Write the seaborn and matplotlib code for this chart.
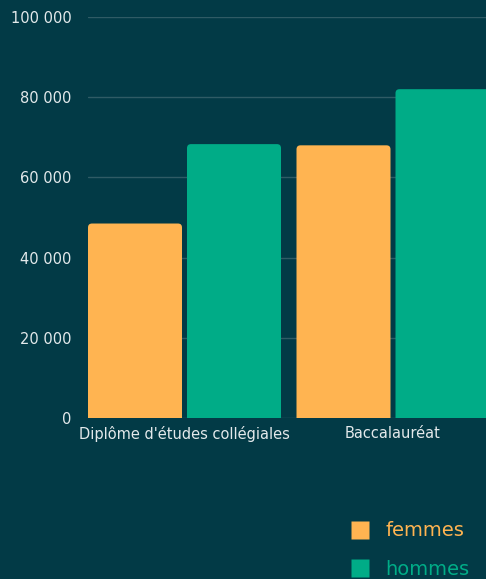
import matplotlib
matplotlib.use("Agg")
import matplotlib.pyplot as plt
import seaborn as sns
import pandas as pd
from matplotlib.patches import FancyBboxPatch
from matplotlib.lines import Line2D
from matplotlib.ticker import FuncFormatter

categories = ["Diplôme d'études collégiales", "Baccalauréat"]
series = ["femmes", "hommes"]
femmes = [48500, 68000]
hommes = [68300, 82000]
yticks = [0, 20000, 40000, 60000, 80000, 100000]

BG = "#023a46"
ORANGE = "#ffb451"
GREEN = "#00ac87"
TEXT = "#e3e9eb"
GRID = "#2f5b65"

rows = []
for c, f, h in zip(categories, femmes, hommes):
    rows.append({"niveau": c, "sexe": "femmes", "valeur": f})
    rows.append({"niveau": c, "sexe": "hommes", "valeur": h})
df = pd.DataFrame(rows)

sns.set_theme(style="dark")
plt.rcParams["font.family"] = ["DejaVu Sans"]

fig = plt.figure(figsize=(4.86, 5.79), dpi=100, facecolor=BG)
ax = fig.add_axes([88 / 486, 1 - 418 / 579, 1 - 88 / 486, (418 - 17) / 579])
ax.set_facecolor(BG)

sns.barplot(data=df, x="niveau", y="valeur", hue="sexe", order=categories,
            hue_order=series, palette=[ORANGE, GREEN], width=0.926, gap=0.026,
            saturation=1, ax=ax, legend=False, errorbar=None, zorder=3)

ppu = 208.5  # pixels per category unit
ax.set_xlim(-(184.5 - 88) / ppu, 1 + (486 - 393) / ppu)
ax.set_ylim(0, 100000)

# rounded top corners, exact bar geometry
bw = 94 / ppu
off = (94 + 5) / 2 / ppu
px_x = 1.0 / ppu
px_y = 1000.0 / 4.01
r = 4 * px_x
aspect = px_y / px_x
for p in list(ax.patches):
    cx = p.get_x() + p.get_width() / 2
    base = round(cx)
    sign = -1 if cx < base else 1
    x0 = base + sign * off - bw / 2
    h = p.get_height()
    fc = p.get_facecolor()
    p.set_visible(False)
    fb = FancyBboxPatch((x0, -3000), bw, h + 3000,
                        boxstyle=f"round,pad=0,rounding_size={r}",
                        mutation_aspect=aspect, facecolor=fc, edgecolor="none",
                        zorder=3)
    ax.add_patch(fb)

ax.set_yticks(yticks)
ax.yaxis.set_major_formatter(FuncFormatter(lambda v, _: f"{int(v):,}".replace(",", " ")))
ax.grid(axis="y", color=GRID, linewidth=1, zorder=0)
ax.grid(axis="x", visible=False)
for s in ax.spines.values():
    s.set_visible(False)
ax.tick_params(axis="y", colors=TEXT, labelsize=10.5, length=0, pad=12)
ax.tick_params(axis="x", colors=TEXT, labelsize=10.5, length=0, pad=6)
ax.set_xlabel("")
ax.set_ylabel("")

handles = [Line2D([], [], marker="s", linestyle="none", markersize=12.5,
                  markerfacecolor=ORANGE, markeredgecolor="none"),
           Line2D([], [], marker="s", linestyle="none", markersize=12.5,
                  markerfacecolor=GREEN, markeredgecolor="none")]
leg = fig.legend(handles, series, loc="upper left",
                 bbox_to_anchor=(333 / 486, 1 - 504 / 579), frameon=False,
                 fontsize=14, labelcolor=[ORANGE, GREEN], handletextpad=0.8,
                 labelspacing=1.0, handlelength=1.0)

fig.savefig("out.png", dpi=100, facecolor=BG)
